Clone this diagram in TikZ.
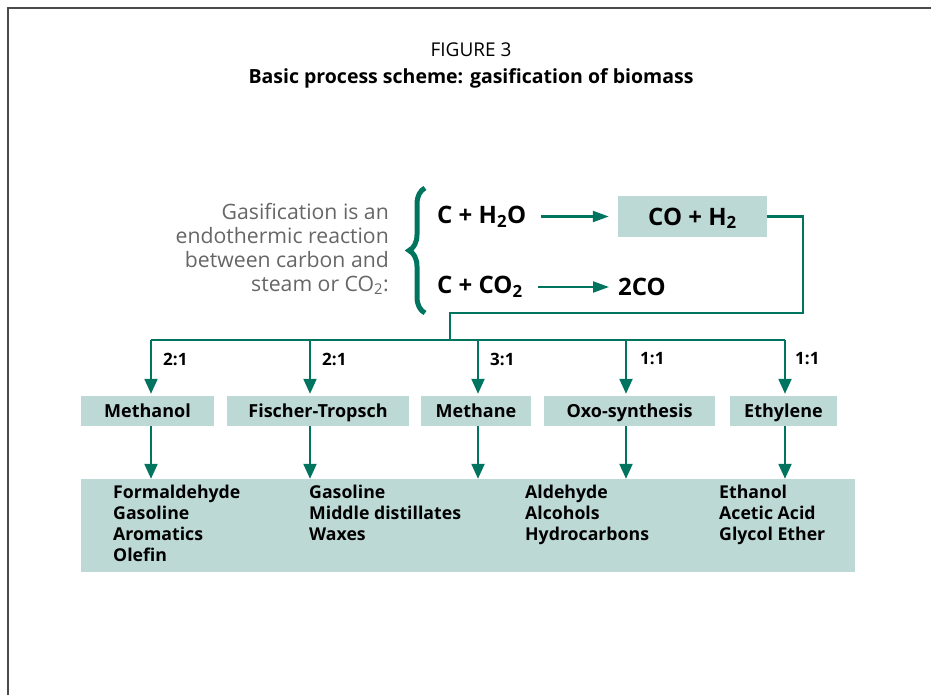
\documentclass[tikz,border=0pt]{standalone}
\usepackage{fontspec}
\setmainfont{Open Sans}
\usetikzlibrary{arrows.meta,decorations.pathreplacing}
\definecolor{tealg}{HTML}{00745F}
\definecolor{boxfill}{HTML}{BDD9D5}
\definecolor{greytext}{HTML}{666666}
\definecolor{framec}{HTML}{4A4A4A}
\begin{document}
\begin{tikzpicture}[x=1pt,y=-1pt,
  box/.style={fill=boxfill, inner sep=0pt, text height=12.9pt, text depth=0pt, font=\bfseries\fontsize{18}{21}\selectfont},
  conn/.style={draw=tealg, line width=2.2pt},
  arr/.style={conn, -{Triangle[length=15pt,width=13pt]}},
  harr/.style={conn, -{Triangle[length=16pt,width=11pt]}},
  ratio/.style={anchor=west, font=\bfseries\fontsize{17}{20}\selectfont, inner sep=0pt},
  eq/.style={anchor=west, inner sep=0pt, font=\bfseries\fontsize{24}{28}\selectfont},
  prod/.style={anchor=north west, inner sep=0pt, align=left, font=\bfseries\fontsize{17.7}{21}\selectfont},
]
\useasboundingbox (0,0) rectangle (931,695);
% frame
\draw[framec, line width=1.5pt] (8,695) -- (8,8) -- (931,8);
% titles
\node[font=\fontsize{19}{22}\selectfont] (t1) at (471,50) {FIGURE 3};
\node[font=\bfseries\fontsize{19.5}{22}\selectfont] (t2) at (471,78) {Basic process scheme: gasification of biomass};
% grey explanation
\node[anchor=east, align=right, text=greytext, inner sep=0pt, font=\fontsize{21.2}{24}\selectfont] (expl) at (389,249)
  {Gasification is an\\endothermic reaction\\between carbon and\\steam or CO\textsubscript{2}:};
% brace
\draw[tealg, line width=5pt, decorate, decoration={brace, amplitude=16pt}] (425,313) -- (425,188);
% reactions
\node[eq] (r1l) at (437,217) {C + H\textsubscript{2}O};
\node[box, minimum width=149pt, minimum height=41pt, text height=17.2pt, font=\bfseries\fontsize{24}{28}\selectfont] (r1r) at (692.5,216.5) {CO + H\textsubscript{2}};
\node[eq] (r2l) at (437,287) {C + CO\textsubscript{2}};
\node[eq] (r2r) at (618,287) {2CO};
\draw[harr] ([xshift=15pt]r1l.east |- r1r.west) -- ([xshift=-9pt]r1r.west);
\draw[harr] ([xshift=15pt]r2l.east) -- ([xshift=-9pt]r2r.west |- r2l.east);
% connector to bus
\coordinate (c1) at (803,216.5);
\coordinate (c2) at (803,313);
\coordinate (c3) at (450,313);
\coordinate (c4) at (450,340);
\draw[conn] (r1r.east) -- (c1) -- (c2) -- (c3) -- (c4);
\coordinate (bl) at (151,340);
\coordinate (br) at (785,340);
\draw[conn] (bl) -- (br);
% middle boxes
\node[box, minimum width=133pt, minimum height=30pt] (m1) at (147.5,411) {Methanol};
\node[box, minimum width=182pt, minimum height=30pt] (m2) at (318,411) {Fischer-Tropsch};
\node[box, minimum width=110pt, minimum height=30pt] (m3) at (476,411) {Methane};
\node[box, minimum width=171pt, minimum height=30pt] (m4) at (629.5,411) {Oxo-synthesis};
\node[box, minimum width=107pt, minimum height=30pt] (m5) at (783.5,411) {Ethylene};
% bottom box
\node[box, minimum width=774pt, minimum height=93pt] (bot) at (468,525.5) {};
% drops
\coordinate (d1) at (151,340);
\coordinate (d2) at (310,340);
\coordinate (d3) at (478,340);
\coordinate (d4) at (626,340);
\coordinate (d5) at (785,340);
\foreach \i in {1,...,5}{
  \draw[arr, shorten >=2pt] (d\i) -- (d\i |- m\i.north);
  \draw[arr] (d\i |- m\i.south) -- (d\i |- bot.north);
}
% ratios
\node[ratio] (q1) at (163,359) {2:1};
\node[ratio] (q2) at (322,359) {2:1};
\node[ratio] (q3) at (490,359) {3:1};
\node[ratio] (q4) at (640,359) {1:1};
\node[ratio] (q5) at (795,359) {1:1};
% products
\node[prod] (p1) at (113,485) {Formaldehyde\\Gasoline\\Aromatics\\Olefin};
\node[prod] (p2) at (309,485) {Gasoline\\Middle distillates\\Waxes};
\node[prod] (p3) at (525,485) {Aldehyde\\Alcohols\\Hydrocarbons};
\node[prod] (p4) at (719,485) {Ethanol\\Acetic Acid\\Glycol Ether};
\end{tikzpicture}
\end{document}
